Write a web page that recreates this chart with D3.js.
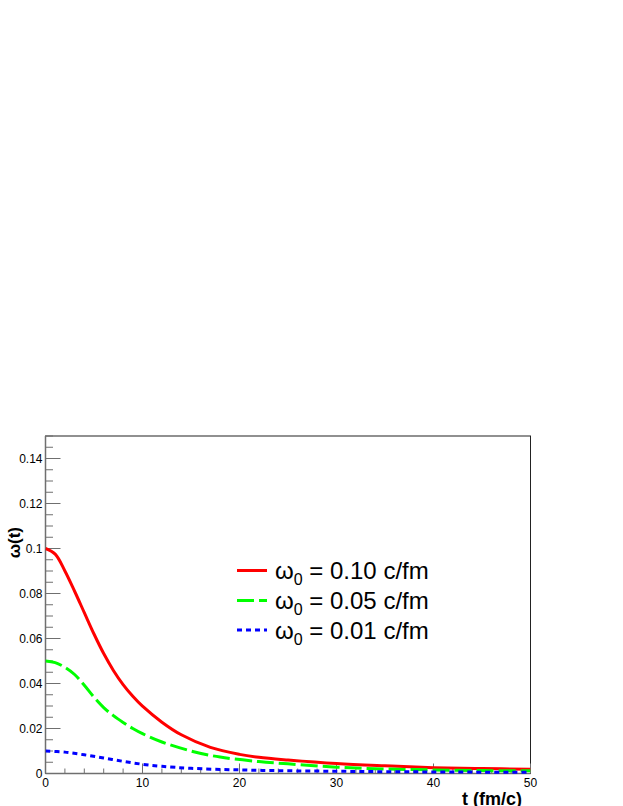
<!DOCTYPE html>
<meta charset="utf-8">
<script src="https://d3js.org/d3.v7.min.js"></script>
<style>
  body { margin: 0; background: #fff; }
  svg { display: block; font-family: "Liberation Sans", Arial, sans-serif; }
</style>
<body>
<svg id="chart"></svg>
</body>
<script>
// values
var tRed   = [0, 1, 2, 3, 4, 5, 6, 7, 8, 9, 10, 12, 14, 17, 20, 22, 25, 30, 35, 40, 45, 50];
var wRed   = [0.100, 0.0975, 0.090, 0.081, 0.0715, 0.062, 0.0533, 0.0458, 0.0395, 0.0343, 0.0299,
              0.0228, 0.0172, 0.0116, 0.0085, 0.0072, 0.0060, 0.0044, 0.0034, 0.0026, 0.0022, 0.0019];
var tGreen = [0, 1, 2, 3, 4, 5, 6, 7, 8, 9, 10, 12, 15, 18, 22, 25, 30, 35, 40, 45, 50];
var wGreen = [0.050, 0.0493, 0.0472, 0.0440, 0.0392, 0.0339, 0.0293, 0.0257, 0.0227, 0.0200, 0.0177,
              0.0140, 0.0100, 0.0073, 0.0053, 0.0043, 0.0028, 0.0020, 0.0016, 0.0013, 0.0012];
var tBlue  = [0, 2, 4, 6, 8, 10, 12, 15, 20, 25, 30, 35, 40, 45, 50];
var wBlue  = [0.0100, 0.0095, 0.0083, 0.0069, 0.0054, 0.0041, 0.0032, 0.0023, 0.0016,
              0.0012, 0.0010, 0.0008, 0.0007, 0.0006, 0.0006];
var legendLabels = ["0.10 c/fm", "0.05 c/fm", "0.01 c/fm"];
var xTicks = [0, 10, 20, 30, 40, 50];
var yTicks = [0, 0.02, 0.04, 0.06, 0.08, 0.1, 0.12, 0.14];

var W = 623, H = 806;
var pLeft = 45.5, pRight = 530.5, pTop = 436, pBottom = 773.5;

var svg = d3.select("#chart").attr("width", W).attr("height", H);
svg.append("rect").attr("width", W).attr("height", H).attr("fill", "#fff");

var x = d3.scaleLinear().domain([0, 50]).range([pLeft, pRight]);
var y = d3.scaleLinear().domain([0, 0.15]).range([pBottom, pTop]);

var axisColor = "#6f6f6f";

// frame
svg.append("rect")
  .attr("x", pLeft).attr("y", pTop)
  .attr("width", pRight - pLeft).attr("height", pBottom - pTop)
  .attr("fill", "none").attr("stroke", "#222").attr("stroke-width", 1);

// x axis ticks (inside, pointing up)
var xMinor = d3.range(0, 50.001, 2);
svg.append("g").selectAll("line").data(xMinor).enter().append("line")
  .attr("x1", d => x(d)).attr("x2", d => x(d))
  .attr("y1", pBottom).attr("y2", d => pBottom - (d % 10 === 0 ? 10 : 5))
  .attr("stroke", axisColor);
svg.append("line").attr("x1", pLeft).attr("x2", pRight).attr("y1", pBottom).attr("y2", pBottom)
  .attr("stroke", axisColor).attr("stroke-width", 1.5);
svg.append("g").selectAll("text").data(xTicks).enter().append("text")
  .attr("x", d => x(d)).attr("y", 787)
  .attr("text-anchor", "middle").attr("font-size", 12)
  .text(d => d);

// y axis ticks (inside, pointing right)
var yMinor = d3.range(0, 31).map(i => i * 0.005);
svg.append("g").selectAll("line").data(yMinor).enter().append("line")
  .attr("y1", d => y(d)).attr("y2", d => y(d))
  .attr("x1", pLeft).attr("x2", (d, i) => pLeft + (i % 4 === 0 ? 15 : 7.5))
  .attr("stroke", axisColor);
svg.append("line").attr("x1", pLeft).attr("x2", pLeft).attr("y1", pTop).attr("y2", pBottom)
  .attr("stroke", axisColor).attr("stroke-width", 1.5);
svg.append("g").selectAll("text").data(yTicks).enter().append("text")
  .attr("x", 42.5).attr("y", d => y(d) + 4.5)
  .attr("text-anchor", "end").attr("font-size", 12)
  .text(d => d3.format("~g")(d));

// axis titles
svg.append("text")
  .attr("x", 522).attr("y", 805)
  .attr("text-anchor", "end").attr("font-size", 18).attr("font-weight", "bold")
  .text("t (fm/c)");
svg.append("text")
  .attr("transform", "translate(20,527) rotate(-90)")
  .attr("text-anchor", "end").attr("font-size", 17).attr("font-weight", "bold")
  .text("ω(t)");

// curves
var series = [
  {t: tRed, w: wRed, color: "#ff0000", dash: null},
  {t: tGreen, w: wGreen, color: "#00ff00", dash: "17,5"},
  {t: tBlue, w: wBlue, color: "#0000ff", dash: "5,4"}
];

var line = d3.line()
  .x(d => x(d[0])).y(d => y(d[1]))
  .curve(d3.curveCatmullRom.alpha(0.5));

svg.append("defs").append("clipPath").attr("id", "plotclip")
  .append("rect").attr("x", pLeft).attr("y", pTop)
  .attr("width", pRight - pLeft).attr("height", pBottom - pTop + 2);

series.forEach(function(s) {
  svg.append("path")
    .datum(s.t.map((t, i) => [t, s.w[i]]))
    .attr("d", line)
    .attr("clip-path", "url(#plotclip)")
    .attr("fill", "none")
    .attr("stroke", s.color)
    .attr("stroke-width", 3)
    .attr("stroke-dasharray", s.dash);
});

// legend
var legY = [570.5, 600.5, 630];
series.forEach(function(s, i) {
  svg.append("line")
    .attr("x1", 237).attr("x2", 267).attr("y1", legY[i]).attr("y2", legY[i])
    .attr("stroke", s.color).attr("stroke-width", 3)
    .attr("stroke-dasharray", s.dash);
  var txt = svg.append("text")
    .attr("x", 275).attr("y", legY[i] + 8.5)
    .attr("font-size", 24);
  txt.append("tspan").text("ω");
  txt.append("tspan").attr("font-size", 16).attr("dy", 6).text("0");
  txt.append("tspan").attr("dy", -6).text(" = " + legendLabels[i]);
});
</script>
